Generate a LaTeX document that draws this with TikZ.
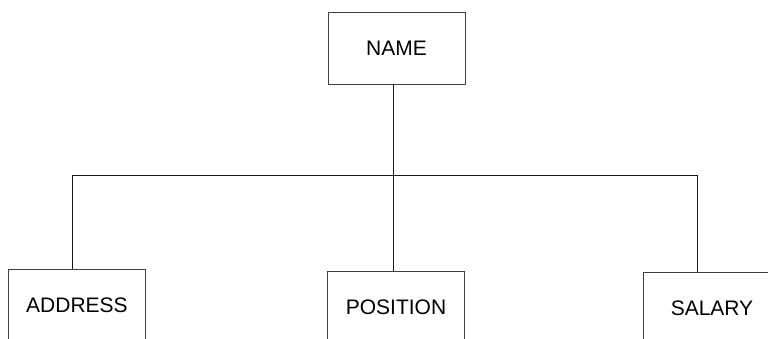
\documentclass[tikz,border=0pt]{standalone}
\usepackage{fontspec}
\setmainfont{Liberation Sans}
\usepackage{tikz}
\usetikzlibrary{positioning}
\tikzset{
    %Define style for the field boxes
    felt/.style={
           rectangle,
           draw=black!75,
           line width=0.9pt,
           minimum width=137pt,
           minimum height=72pt,
           font=\fontsize{21}{25}\selectfont,
           text centered},
    % Define connector style
    strek/.style={
           line width=0.9pt,
           draw=black!90}
}
\begin{document}
\begin{tikzpicture}[x=1pt,y=-1pt]
  \path[use as bounding box] (0,0) rectangle (768,339);
  \clip (0,0) rectangle (768,339);
  \node[felt] (name) at (396.5,48) {NAME};
  \node[felt] (address) at (77,305) {ADDRESS};
  \node[felt] (position) at (396,307) {POSITION};
  \node[felt] (salary) at (712,308) {SALARY};
  % bus ends
  \coordinate (busL) at (72,175);
  \coordinate (busR) at (697.5,175);
  \draw[strek] (busL) -- (busR);
  \draw[strek] ([xshift=-3.2pt]name.south) -- ([xshift=-3.2pt]name.south |- position.north);
  \draw[strek] (busL) -- (busL |- address.north);
  \draw[strek] (busR) -- (busR |- salary.north);
\end{tikzpicture}
\end{document}
